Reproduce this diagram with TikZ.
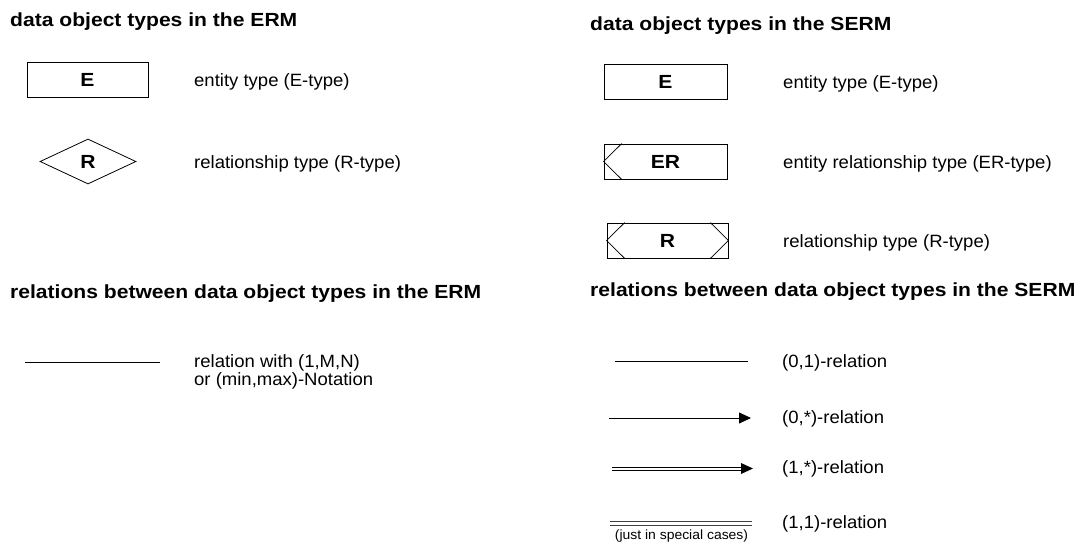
\documentclass[tikz,border=0pt]{standalone}
\usepackage{fontspec}
\setmainfont{Liberation Sans}
\newfontfamily\rfont{Liberation Sans}[FakeStretch=1.04]
\newfontfamily\bfont{Liberation Sans Bold}[FakeStretch=1.11]
\usetikzlibrary{shapes.geometric,arrows.meta}
\begin{document}
\begin{tikzpicture}[x=1pt,y=-1pt,
  title/.style={anchor=base west, inner sep=0pt, font=\bfont\fontsize{19}{22}\selectfont},
  lbl/.style={anchor=base west, inner sep=0pt, font=\rfont\fontsize{17.8}{21}\selectfont},
  small/.style={anchor=base, inner sep=0pt, font=\rfont\fontsize{13.4}{16}\selectfont},
  ent/.style={draw, line width=0.8pt, rectangle, minimum width=122pt, minimum height=35pt, inner sep=0pt, font=\bfont\fontsize{19}{22}\selectfont},
  relt/.style={draw, line width=0.8pt, diamond, aspect=2.13, minimum width=96pt, minimum height=45pt, inner sep=0pt, font=\bfont\fontsize{19}{22}\selectfont},
  conn/.style={line width=0.8pt},
  tipfill/.style={fill=black}
]
\useasboundingbox (0,0) rectangle (1079,546);

% ---------- left column ----------
\node[title] (t1) at (10,27) {data object types in the ERM};
\node[ent, minimum width=121pt] (e1) at (87.5,79.5) {E};
\node[lbl] (l1) at (194,86) {entity type (E-type)};
\node[relt] (r1) at (88,161.5) {R};
\node[lbl] (l2) at (194,168) {relationship type (R-type)};

\node[title] (t2) at (10,298) {relations between data object types in the ERM};
\coordinate (a1) at (25,362);
\coordinate (b1) at (160,362);
\draw[conn] (a1) -- (b1);
\node[lbl] (l3) at (194,367) {relation with (1,M,N)};
\node[lbl] (l4) at (194,385) {or (min,max)-Notation};

% ---------- right column ----------
\node[title] (t3) at (590,30) {data object types in the SERM};
\node[ent, minimum width=123pt] (e2) at (665.5,81.5) {E};
\node[lbl] (l5) at (783,88) {entity type (E-type)};

\node[ent, minimum width=123pt] (er) at (665.5,161.5) {ER};
\draw[conn] ([xshift=18pt]er.north west) -- (er.west) -- ([xshift=18pt]er.south west);
\node[lbl] (l6) at (783,168) {entity relationship type (ER-type)};

\node[ent, minimum width=121pt] (r2) at (667.5,240.5) {R};
\draw[conn] ([xshift=18pt]r2.north west) -- (r2.west) -- ([xshift=18pt]r2.south west);
\draw[conn] ([xshift=-18pt]r2.north east) -- (r2.east) -- ([xshift=-18pt]r2.south east);
\node[lbl] (l7) at (783,247) {relationship type (R-type)};

\node[title] (t4) at (590,296) {relations between data object types in the SERM};

% (0,1)-relation
\coordinate (a2) at (615,361);
\coordinate (b2) at (748,361);
\draw[conn] (a2) -- (b2);
\node[lbl] (l8) at (782,367) {(0,1)-relation};

% (0,*)-relation
\coordinate (a3) at (609,418);
\coordinate (b3) at (751,418);
\draw[conn, -{Triangle[length=12pt,width=11pt]}] (a3) -- (b3);
\node[lbl] (l9) at (782,423) {(0,*)-relation};

% (1,*)-relation
\coordinate (a4) at (612,468.5);
\coordinate (b4) at (753,468.5);
\draw[conn] ([yshift=1.5pt]a4) -- ([xshift=-11pt,yshift=1.5pt]b4);
\draw[conn] ([yshift=-1.5pt]a4) -- ([xshift=-11pt,yshift=-1.5pt]b4);
\fill[tipfill] (b4) -- ++(-12,-5.5) -- ++(0,11) -- cycle;
\node[lbl] (l10) at (782,473) {(1,*)-relation};

% (1,1)-relation
\coordinate (a5) at (610,523.7);
\coordinate (b5) at (752,523.7);
\draw[conn, black!75] ([yshift=2pt]a5) -- ([yshift=2pt]b5);
\draw[conn, black!75] ([yshift=-2pt]a5) -- ([yshift=-2pt]b5);
\node[lbl] (l11) at (782,528) {(1,1)-relation};
\node[small] (l12) at (681.5,539) {(just in special cases)};
\end{tikzpicture}
\end{document}
